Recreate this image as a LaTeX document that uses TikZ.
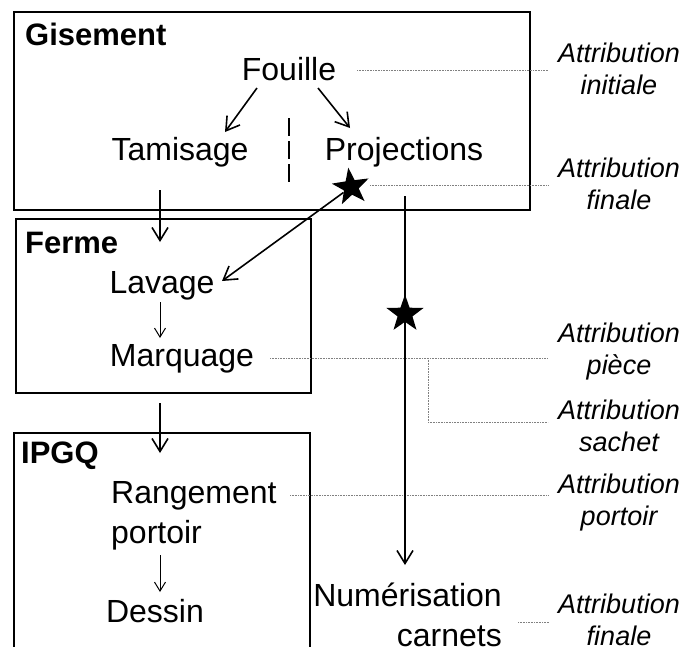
\documentclass[tikz,border=0pt]{standalone}
\usepackage{fontspec}
\setmainfont{Liberation Sans}
\usetikzlibrary{arrows.meta,shapes.geometric}
\begin{document}
\begin{tikzpicture}[x=1pt,y=-1pt,
 txt/.style={font=\fontsize{32}{38}\selectfont, inner sep=0, anchor=base},
 ttl/.style={font=\fontsize{31}{36}\selectfont\bfseries, inner sep=0, anchor=base west},
 attr/.style={font=\fontsize{27}{32}\selectfont\itshape, inner sep=0, anchor=base},
 box/.style={draw, line width=1.8pt, inner sep=0},
 arr/.style={line width=1.6pt, -{Straight Barb[length=13pt,width=16pt]}},
 tarr/.style={line width=1pt, -{Straight Barb[length=9pt,width=11pt]}},
 guide/.style={gray, line width=0.7pt, dash pattern=on 0.8pt off 0.8pt},
 starm/.style={star, star points=5, star point ratio=2.5, fill=black, minimum size=39pt, inner sep=0},
]
\useasboundingbox (0,0) rectangle (692,646);
\clip (0,0) rectangle (692,646);
% boxes
\node[box, minimum width=516pt, minimum height=198pt] (gis) at (272,111) {};
\node[box, minimum width=295pt, minimum height=174pt] (ferme) at (163.5,306) {};
\node[box, minimum width=296pt, minimum height=247pt] (ipgq) at (162,556.5) {};
% titles
\node[ttl] (tgis) at (25,45) {Gisement};
\node[ttl] (tferme) at (25,253) {Ferme};
\node[ttl] (tipgq) at (21,463) {IPGQ};
% texts
\node[txt] (fouille) at (289,80) {Fouille};
\node[txt] (tamisage) at (180,160) {Tamisage};
\node[txt] (proj) at (404,160) {Projections};
\node[txt] (lavage) at (162,293) {Lavage};
\node[txt] (marquage) at (182,366) {Marquage};
\node[txt, anchor=base west] (rang) at (111,503) {\fontsize{32}{40}\selectfont\begin{tabular}[t]{@{}l@{}}Rangement\\portoir\end{tabular}};
\node[txt] (dessin) at (155,622) {Dessin};
\node[txt, anchor=base east] (num) at (502,606) {\fontsize{32}{40}\selectfont\begin{tabular}[t]{@{}r@{}}Numérisation\\carnets\end{tabular}};
% attribution labels
\node[attr] (a1) at (619,62) {\begin{tabular}[t]{@{}c@{}}Attribution\\initiale\end{tabular}};
\node[attr] (a2) at (619,177) {\begin{tabular}[t]{@{}c@{}}Attribution\\finale\end{tabular}};
\node[attr] (a3) at (619,342) {\begin{tabular}[t]{@{}c@{}}Attribution\\pièce\end{tabular}};
\node[attr] (a4) at (619,419) {\begin{tabular}[t]{@{}c@{}}Attribution\\sachet\end{tabular}};
\node[attr] (a5) at (619,493) {\begin{tabular}[t]{@{}c@{}}Attribution\\portoir\end{tabular}};
\node[attr] (a6) at (619,613) {\begin{tabular}[t]{@{}c@{}}Attribution\\finale\end{tabular}};
% coordinates
\coordinate (f1) at (257,88); \coordinate (t1) at (225,132);
\coordinate (f2) at (318,88); \coordinate (p1) at (350,128);
\coordinate (tamB) at (160,190); \coordinate (fermeT) at (160,242);
\coordinate (lavS) at (222,281);
\coordinate (lavB) at (160,302); \coordinate (marT) at (160,338);
\coordinate (fermeB) at (160,403); \coordinate (ipgqT) at (160,453);
\coordinate (rangB) at (160,555); \coordinate (desT) at (160,592);
\coordinate (vTop) at (405,196); \coordinate (numT) at (405,565);
\coordinate (dTop) at (289,118); \coordinate (dBot) at (289,182);
% guides
\draw[guide] (357,70) -- (548,70);
\draw[guide] (370,185) -- (548,185);
\draw[guide] (270,358) -- (548,358);
\draw[guide] (428,358) -- (428,422) -- (548,422);
\draw[guide] (290,495) -- (548,495);
\draw[guide] (518,622) -- (549,622);
% arrows
\draw[arr] (f1) -- (t1);
\draw[arr] (f2) -- (p1);
\draw[arr] (tamB) -- (fermeT);
\draw[tarr] (lavB) -- (marT);
\draw[arr] (fermeB) -- (ipgqT);
\draw[tarr] (rangB) -- (desT);
\draw[arr] (vTop) -- (numT);
\draw[line width=1.5pt, dash pattern=on 18pt off 5pt] (dTop) -- (dBot);
% stars
\node[starm, rotate=8] (s1) at (351,187) {};
\node[starm] (s2) at (405,314) {};
\draw[arr] (s1) -- (lavS);
\end{tikzpicture}
\end{document}
